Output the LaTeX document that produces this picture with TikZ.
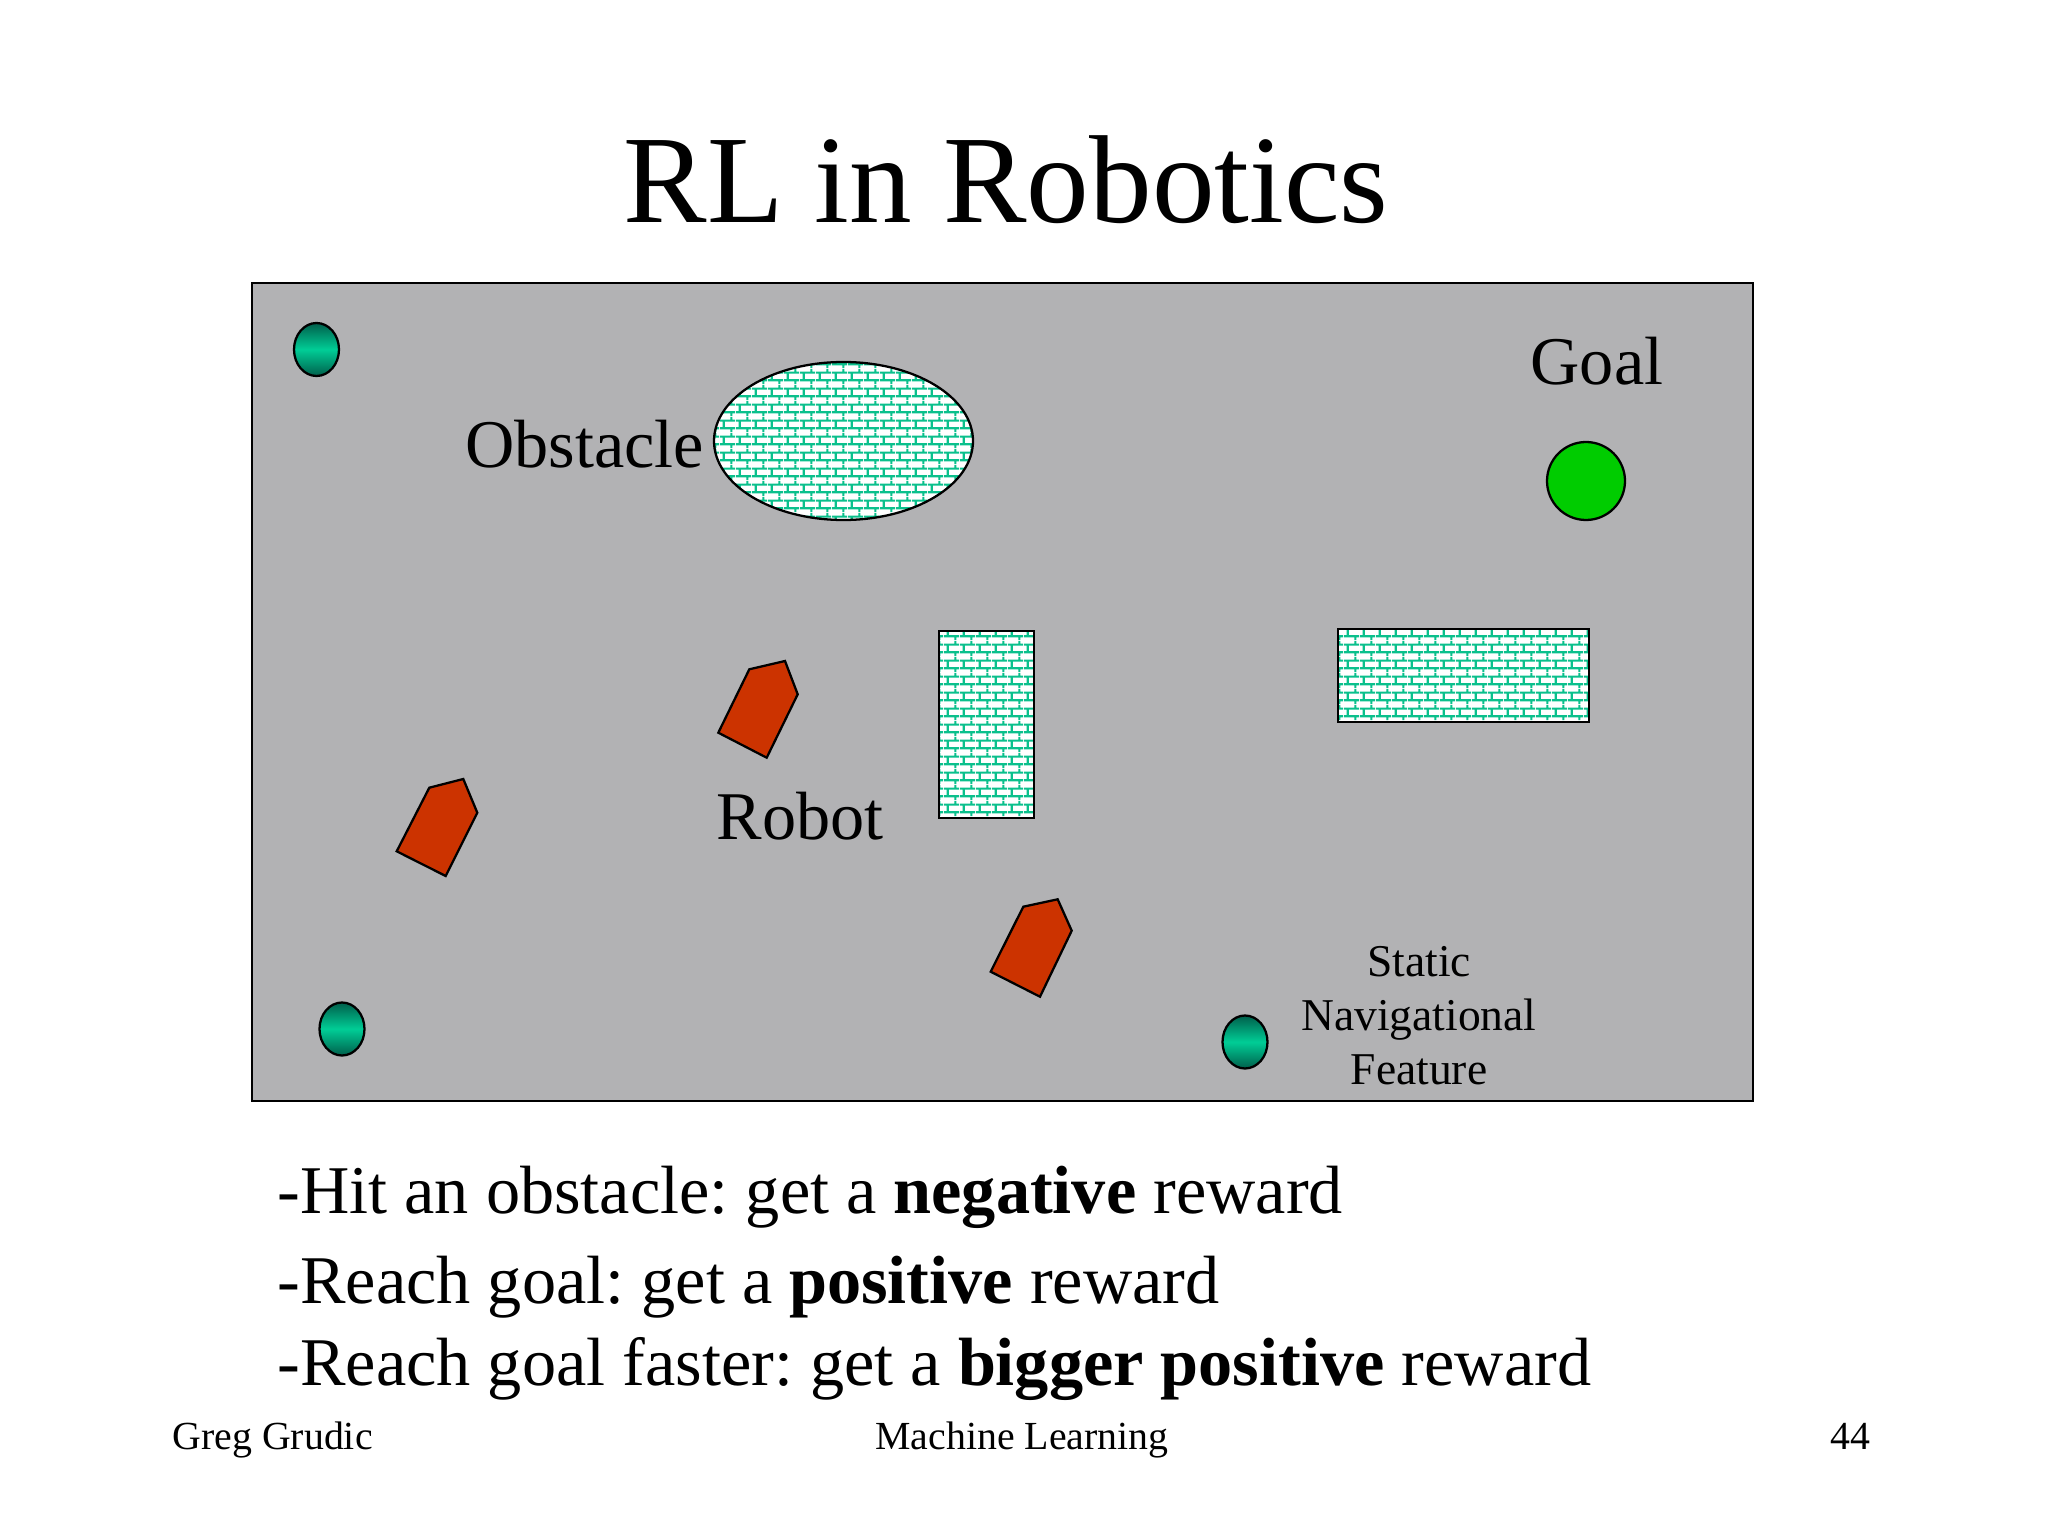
\documentclass[tikz,border=0pt]{standalone}
\usepackage{fontspec}
\setmainfont{Liberation Serif}
\usetikzlibrary{patterns}
\frenchspacing
\pgfdeclarepatternformonly{mybricks}{\pgfqpoint{0pt}{0pt}}{\pgfqpoint{5.625pt}{5.625pt}}{\pgfqpoint{5.625pt}{5.625pt}}{%
  \pgfsetlinewidth{0.8pt}%
  \pgfpathmoveto{\pgfqpoint{0pt}{1.40625pt}}\pgfpathlineto{\pgfqpoint{5.625pt}{1.40625pt}}%
  \pgfpathmoveto{\pgfqpoint{0pt}{4.21875pt}}\pgfpathlineto{\pgfqpoint{5.625pt}{4.21875pt}}%
  \pgfpathmoveto{\pgfqpoint{1.40625pt}{1.40625pt}}\pgfpathlineto{\pgfqpoint{1.40625pt}{4.21875pt}}%
  \pgfpathmoveto{\pgfqpoint{4.21875pt}{4.21875pt}}\pgfpathlineto{\pgfqpoint{4.21875pt}{5.625pt}}%
  \pgfpathmoveto{\pgfqpoint{4.21875pt}{0pt}}\pgfpathlineto{\pgfqpoint{4.21875pt}{1.40625pt}}%
  \pgfusepath{stroke}}
\definecolor{panelgray}{RGB}{178,178,180}
\definecolor{brickgreen}{RGB}{10,192,140}
\definecolor{robotred}{RGB}{204,51,0}
\definecolor{goalgreen}{RGB}{0,204,0}
\definecolor{featdark}{RGB}{0,95,75}
\definecolor{featlight}{RGB}{0,205,150}
\tikzset{
  outline/.style={draw=black, line width=0.8pt},
  robotshape/.style={outline, fill=robotred, line width=0.8pt, line join=miter},
  brickfill/.style={outline, preaction={fill=white}, pattern=mybricks, pattern color=brickgreen},
  feature/.style={outline, top color=featdark, bottom color=featdark, middle color=featlight},
  lbl/.style={inner sep=0pt, font=\fontsize{24pt}{28pt}\selectfont},
  bullet/.style={inner sep=0pt, anchor=base west, font=\fontsize{24pt}{28pt}\selectfont},
  foot/.style={inner sep=0pt, font=\fontsize{14pt}{16pt}\selectfont},
}
\begin{document}
\begin{tikzpicture}[x=0.3515625pt, y=-0.3515625pt]
\useasboundingbox[fill=white] (0,0) rectangle (2048,1536);

% title
\node[inner sep=0pt, anchor=base, font=\fontsize{44pt}{50pt}\selectfont] (title) at (1006,223) {RL in Robotics};

% panel
\draw[outline, fill=panelgray] (252,283) rectangle (1753,1101);

% obstacles
\draw[brickfill] (843.5,441) ellipse [x radius=129.5, y radius=79];
\draw[brickfill] (939,631) rectangle (1034,818);
\draw[brickfill] (1338,629) rectangle (1589,722);

% goal
\draw[outline, fill=goalgreen] (1586,481) circle [radius=39];

% static navigational features
\draw[feature] (316.5,349.5) ellipse [x radius=22.5, y radius=26.5];
\draw[feature] (342,1029) ellipse [x radius=22.5, y radius=26.5];
\draw[feature] (1245,1042) ellipse [x radius=22.5, y radius=26.5];

% robots
\draw[robotshape] (749.3,669.3) -- (785,661) -- (797.7,694.3) -- (766.7,757.7) -- (718.3,732.7) -- cycle;
\draw[robotshape] (429.3,787.7) -- (463.3,779) -- (477.3,812.7) -- (445.7,876) -- (396.7,851.3) -- cycle;
\draw[robotshape] (1023.3,906.7) -- (1057.7,899.3) -- (1071.7,930.7) -- (1040,996.7) -- (990.7,971.7) -- cycle;

% labels
\node[lbl, anchor=base] (obst) at (584.5,468) {Obstacle};
\node[lbl, anchor=base] (goal) at (1597,385) {Goal};
\node[lbl, anchor=base] (robot) at (800,839) {Robot};
\node[inner sep=0pt, align=center, font=\fontsize{16pt}{19pt}\selectfont] (snf) at (1419,1016) {Static\\Navigational\\Feature};

% bullets
\node[bullet] (b1) at (277,1213) {-Hit an obstacle: get a \textbf{negative} reward};
\node[bullet] (b2) at (277,1303) {-Reach goal: get a \textbf{positive} reward};
\node[bullet] (b3) at (277,1385) {-Reach goal faster: get a \textbf{bigger positive} reward};

% footer
\node[foot, anchor=base west] (f1) at (172,1449) {Greg Grudic};
\node[foot, anchor=base] (f2) at (1022,1449) {Machine Learning};
\node[foot, anchor=base east] (f3) at (1871,1449) {44};
\end{tikzpicture}
\end{document}
